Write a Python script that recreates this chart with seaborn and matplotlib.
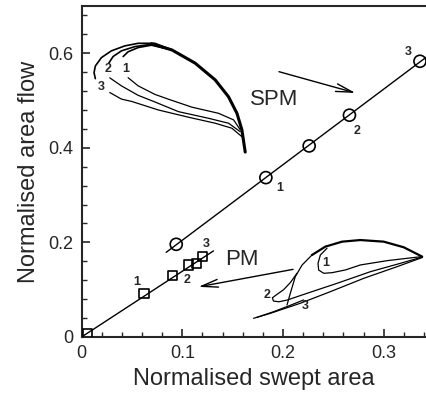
import matplotlib
matplotlib.use("Agg")
import matplotlib.pyplot as plt
from matplotlib.ticker import MultipleLocator
import seaborn as sns

# SPM (open circles) and PM (open squares) points
spm_x = [0.094, 0.183, 0.226, 0.266, 0.336]
spm_y = [0.196, 0.337, 0.404, 0.469, 0.583]
pm_x = [0.006, 0.062, 0.090, 0.106, 0.114, 0.120]
pm_y = [0.008, 0.092, 0.130, 0.152, 0.156, 0.170]

# straight lines through each group (end points)
spm_line_x = [0.084, 0.345]
spm_line_y = [0.179, 0.596]
pm_line_x = [0.0, 0.131]
pm_line_y = [0.0, 0.182]

# point labels
spm_lab_x = [0.197, 0.274, 0.324]
spm_lab_y = [0.316, 0.435, 0.603]
pm_lab_x = [0.0545, 0.105, 0.124]
pm_lab_y = [0.116, 0.120, 0.196]
lab_txt = ["1", "2", "3"]

# SPM blade sketch (upper left)
spm_thick_x = [0.0694, 0.0897, 0.1128, 0.1327, 0.1459, 0.1543, 0.1592, 0.1625]
spm_thick_y = [0.620, 0.607, 0.579, 0.5436, 0.508, 0.473, 0.438, 0.391]
spm1_up_x = [0.0413, 0.0462, 0.0562, 0.0694, 0.0897]
spm1_up_y = [0.593, 0.603, 0.612, 0.617, 0.607]
spm1_lo_x = [0.0462, 0.0562, 0.0728, 0.086, 0.1095, 0.136, 0.151, 0.1576]
spm1_lo_y = [0.5483, 0.531, 0.513, 0.503, 0.486, 0.473, 0.459, 0.438]
spm2_up_x = [0.027, 0.0313, 0.0396, 0.0529, 0.0694, 0.0897]
spm2_up_y = [0.579, 0.593, 0.605, 0.614, 0.619, 0.607]
spm2_lo_x = [0.028, 0.0396, 0.0562, 0.0728, 0.0962, 0.126, 0.146, 0.1576]
spm2_lo_y = [0.548, 0.531, 0.511, 0.497, 0.4765, 0.4625, 0.452, 0.434]
spm3_up_x = [0.0137, 0.0124, 0.0137, 0.0197, 0.0296, 0.0429, 0.0562, 0.0728, 0.0897]
spm3_up_y = [0.5463, 0.559, 0.573, 0.5907, 0.605, 0.6155, 0.621, 0.621, 0.607]
spm3_lo_x = [0.028, 0.0396, 0.0499, 0.0763, 0.1062, 0.1327, 0.1493, 0.1592]
spm3_lo_y = [0.517, 0.503, 0.498, 0.480, 0.4647, 0.452, 0.4414, 0.4236]
spm_sk_lab_x = [0.044, 0.0263, 0.0197]
spm_sk_lab_y = [0.566, 0.566, 0.529]

# PM blade sketch (lower right)
pm_thin_x = [0.204, 0.2073, 0.2122, 0.2189, 0.2288]
pm_thin_y = [0.0677, 0.0924, 0.1275, 0.152, 0.1734]
pm_thick_x = [0.2288, 0.242, 0.2587, 0.2768, 0.300, 0.3199, 0.3382]
pm_thick_y = [0.1734, 0.191, 0.2016, 0.205, 0.2016, 0.1897, 0.170]
pm1_x = [0.2437, 0.2371, 0.2348, 0.2354, 0.2404, 0.2487, 0.2619, 0.2768, 0.3034, 0.3233, 0.3382]
pm1_y = [0.1876, 0.1734, 0.1558, 0.1417, 0.1347, 0.136, 0.1417, 0.1523, 0.1614, 0.1664, 0.170]
pm2_x = [0.2139, 0.2073, 0.2006, 0.194, 0.1895, 0.1905, 0.196, 0.204, 0.2239,
         0.2537, 0.2868, 0.3166, 0.3382]
pm2_y = [0.1347, 0.115, 0.100, 0.090, 0.083, 0.076, 0.0745, 0.078, 0.0924,
         0.1135, 0.1381, 0.1558, 0.169]
pm3_x = [0.1708, 0.1874, 0.2023, 0.2172, 0.247, 0.2801, 0.3133, 0.3382]
pm3_y = [0.0395, 0.050, 0.0607, 0.0713, 0.0958, 0.124, 0.1487, 0.168]
pm3b_x = [0.1742, 0.1907, 0.2056, 0.2205]
pm3b_y = [0.0416, 0.0535, 0.0656, 0.0783]
pm_sk_lab_x = [0.242, 0.184, 0.2222]
pm_sk_lab_y = [0.156, 0.0888, 0.0656]

# arrows and names
spm_arrow = [(0.196, 0.561), (0.272, 0.516)]
pm_arrow = [(0.210, 0.143), (0.116, 0.106)]
spm_name = ("SPM", 0.167, 0.502)
pm_name = ("PM", 0.1426, 0.163)

sns.set_style("ticks")
plt.rcParams["font.family"] = ["Liberation Sans", "DejaVu Sans"]

fig = plt.figure(figsize=(4.27, 3.96), dpi=100)
ax = fig.add_axes([0.191, 0.149, 0.809, 0.836])


def curve(xs, ys, lw=0.9):
    sns.lineplot(x=xs, y=ys, sort=False, estimator=None, color="black",
                 linewidth=lw, solid_capstyle="round", solid_joinstyle="round",
                 ax=ax)


curve(spm_line_x, spm_line_y, 1.0)
curve(pm_line_x, pm_line_y, 1.0)

sns.scatterplot(x=spm_x, y=spm_y, marker="o", s=75, facecolor="none",
                edgecolor="black", linewidth=1.2, ax=ax, zorder=3)
sns.scatterplot(x=pm_x, y=pm_y, marker="s", s=45, facecolor="none",
                edgecolor="black", linewidth=1.2, ax=ax, zorder=3)

for xs, ys in [(spm_lab_x, spm_lab_y), (pm_lab_x, pm_lab_y),
               (spm_sk_lab_x, spm_sk_lab_y), (pm_sk_lab_x, pm_sk_lab_y)]:
    for t, x, y in zip(lab_txt, xs, ys):
        ax.text(x, y, t, fontsize=9, fontweight="bold", ha="center", va="center")

# blade sketches
curve(spm_thick_x, spm_thick_y, 2.2)
for xs, ys in [(spm1_up_x, spm1_up_y), (spm2_up_x, spm2_up_y), (spm3_up_x, spm3_up_y)]:
    curve(xs, ys, 1.2)
for xs, ys in [(spm1_lo_x, spm1_lo_y), (spm2_lo_x, spm2_lo_y), (spm3_lo_x, spm3_lo_y)]:
    curve(xs, ys, 0.9)

curve(pm_thin_x, pm_thin_y, 0.9)
curve(pm_thick_x, pm_thick_y, 1.6)
for xs, ys in [(pm1_x, pm1_y), (pm2_x, pm2_y), (pm3_x, pm3_y), (pm3b_x, pm3b_y)]:
    curve(xs, ys, 0.9)

for (x0, y0), (x1, y1) in [spm_arrow, pm_arrow]:
    ax.annotate("", xy=(x1, y1), xytext=(x0, y0),
                arrowprops=dict(arrowstyle="->,head_length=1.2,head_width=0.28",
                                color="black", lw=1.0, mutation_scale=10,
                                shrinkA=0, shrinkB=0))

for name, x, y in [spm_name, pm_name]:
    ax.text(x, y, name, fontsize=16, ha="left", va="center")

ax.set_xlim(0, 0.343)
ax.set_ylim(0, 0.70)
ax.xaxis.set_major_locator(MultipleLocator(0.1))
ax.xaxis.set_minor_locator(MultipleLocator(0.02))
ax.yaxis.set_major_locator(MultipleLocator(0.2))
ax.yaxis.set_minor_locator(MultipleLocator(0.04))
ax.set_xticks([0, 0.1, 0.2, 0.3])
ax.set_xticklabels(["0", "0.1", "0.2", "0.3"])
ax.set_yticks([0, 0.2, 0.4, 0.6])
ax.set_yticklabels(["0", "0.2", "0.4", "0.6"])
ax.tick_params(which="major", direction="in", length=6, width=1.2,
               labelsize=13, pad=6)
ax.tick_params(which="minor", direction="in", length=3.5, width=1.0)
for side in ["left", "bottom", "top"]:
    ax.spines[side].set_linewidth(1.5)
ax.spines["right"].set_visible(False)

ax.set_xlabel("Normalised swept area", fontsize=17, labelpad=4)
ax.set_ylabel("Normalised area flow", fontsize=17, labelpad=6)

fig.savefig("out.png", dpi=100)
